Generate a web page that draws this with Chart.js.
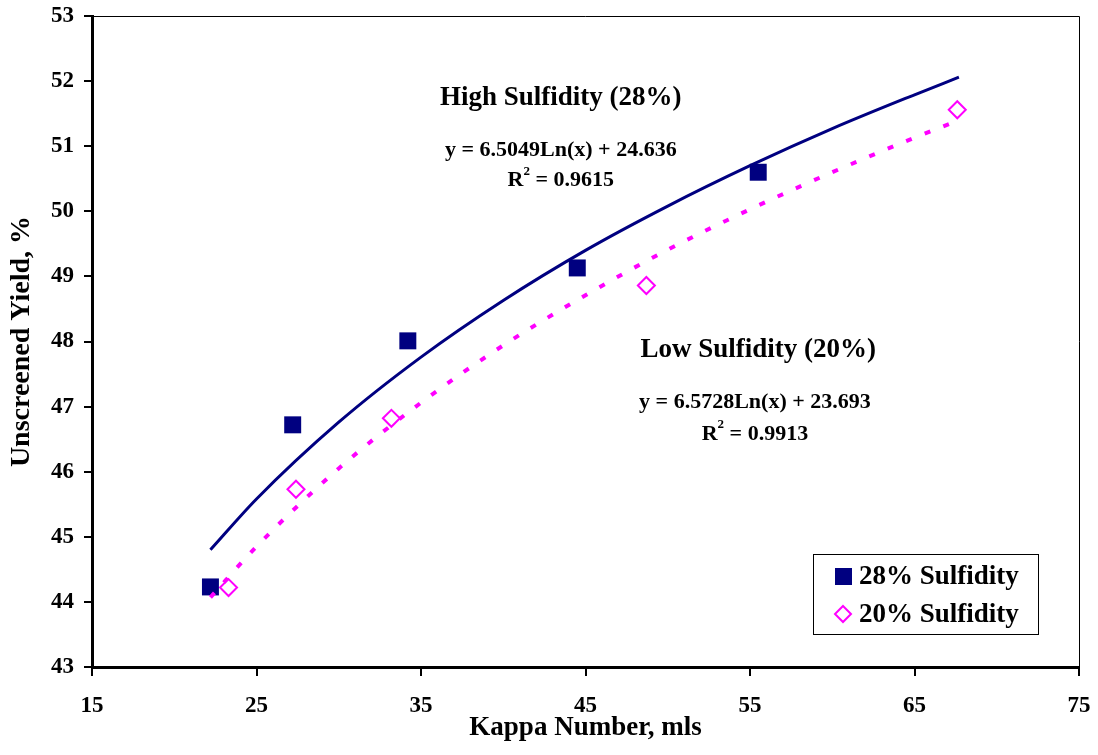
<!DOCTYPE html>
<html>
<head>
<meta charset="utf-8">
<script src="https://cdn.jsdelivr.net/npm/chart.js@4.4.1/dist/chart.umd.min.js"></script>
<style>
  html, body { margin: 0; padding: 0; background: #fff; }
  #wrap { width: 1098px; height: 755px; }
</style>
</head>
<body>
<div id="wrap"><canvas id="grafico" width="1098" height="755"></canvas></div>
<script>
// measured points
const kappa28 = [22.2, 27.2, 34.2, 44.5, 55.5];
const yield28 = [44.23, 46.72, 48.01, 49.13, 50.60];
const kappa20 = [23.3, 27.4, 33.2, 48.7, 67.6];
const yield20 = [44.22, 45.73, 46.82, 48.86, 51.56];

// trend lines
const trendX28 = [22.2, 25, 30, 35, 40, 45, 50, 55, 60, 65, 67.7];
const trendY28 = [44.80, 45.58, 46.76, 47.76, 48.63, 49.40, 50.08, 50.70, 51.27, 51.79, 52.06];
const trendX20 = [22.2, 25, 30, 35, 40, 45, 50, 55, 60, 65, 67.5];
const trendY20 = [44.07, 44.85, 46.05, 47.06, 47.94, 48.71, 49.41, 50.03, 50.60, 51.13, 51.38];

const xTicks = [15, 25, 35, 45, 55, 65, 75];
const yTicks = [43, 44, 45, 46, 47, 48, 49, 50, 51, 52, 53];

const seriesNames = ['28% Sulfidity', '20% Sulfidity'];
const notes = [
  { x: 43.5, y: 51.74, text: 'High Sulfidity (28%)', size: 27 },
  { x: 43.5, y: 50.94, text: 'y = 6.5049Ln(x) + 24.636', size: 22 },
  { x: 43.5, y: 50.47, text: 'R2 = 0.9615', size: 22, sup: true },
  { x: 55.5, y: 47.87, text: 'Low Sulfidity (20%)', size: 27 },
  { x: 55.3, y: 47.06, text: 'y = 6.5728Ln(x) + 23.693', size: 22 },
  { x: 55.3, y: 46.58, text: 'R2 = 0.9913', size: 22, sup: true }
];

const NAVY = '#000080';
const PINK = '#FF00FF';
const FONT = '"Liberation Serif", "Times New Roman", serif';

const pares = (xs, ys) => xs.map((x, i) => ({ x, y: ys[i] }));

// frame, notes and legend drawn on top
const extras = {
  id: 'extras',
  afterDraw(chart) {
    const { ctx, chartArea: a, scales } = chart;
    ctx.save();
    ctx.strokeStyle = '#000';
    ctx.lineWidth = 1;
    ctx.beginPath();
    ctx.moveTo(a.left, a.top + 0.5);
    ctx.lineTo(a.right + 0.5, a.top + 0.5);
    ctx.lineTo(a.right + 0.5, a.bottom);
    ctx.stroke();

    ctx.fillStyle = '#000';
    ctx.textAlign = 'center';
    ctx.textBaseline = 'middle';
    notes.forEach(n => {
      const px = scales.x.getPixelForValue(n.x);
      const py = scales.y.getPixelForValue(n.y);
      ctx.font = 'bold ' + n.size + 'px ' + FONT;
      if (n.sup) {
        const rest = n.text.slice(2);
        const wR = ctx.measureText('R').width;
        const wRest = ctx.measureText(rest).width;
        ctx.font = 'bold 13px ' + FONT;
        const w2 = ctx.measureText('2').width;
        const total = wR + w2 + wRest;
        const x0 = px - total / 2;
        ctx.textAlign = 'left';
        ctx.font = 'bold ' + n.size + 'px ' + FONT;
        ctx.fillText('R', x0, py);
        ctx.font = 'bold 13px ' + FONT;
        ctx.fillText('2', x0 + wR, py - 9);
        ctx.font = 'bold ' + n.size + 'px ' + FONT;
        ctx.fillText(rest, x0 + wR + w2, py);
        ctx.textAlign = 'center';
      } else {
        ctx.fillText(n.text, px, py);
      }
    });

    // legend box
    const lx = a.right - 266, ly = a.bottom - 113, lw = 225, lh = 80;
    ctx.lineWidth = 1;
    ctx.strokeStyle = '#000';
    ctx.strokeRect(lx + 0.5, ly + 0.5, lw, lh);
    ctx.textAlign = 'left';
    ctx.font = 'bold 27px ' + FONT;
    const ds = chart.data.datasets.filter(d => d.inLegend);
    ds.forEach((d, i) => {
      const cy = ly + 22 + i * 38;
      ctx.fillStyle = d.pointBackgroundColor;
      ctx.strokeStyle = d.pointBorderColor;
      ctx.lineWidth = 2;
      ctx.beginPath();
      if (d.pointStyle === 'rect') {
        ctx.fillRect(lx + 22, cy - 8, 17, 17);
      } else {
        ctx.moveTo(lx + 30, cy - 8);
        ctx.lineTo(lx + 38, cy);
        ctx.lineTo(lx + 30, cy + 8);
        ctx.lineTo(lx + 22, cy);
        ctx.closePath();
        ctx.stroke();
      }
      ctx.fillStyle = '#000';
      ctx.fillText(d.label, lx + 46, cy + 1);
    });
    ctx.restore();
  }
};

const ctx = document.getElementById('grafico').getContext('2d');
new Chart(ctx, {
  type: 'scatter',
  data: {
    datasets: [
      {
        label: 'trend 28', data: pares(trendX28, trendY28), showLine: true,
        borderColor: NAVY, borderWidth: 3, pointRadius: 0, cubicInterpolationMode: 'monotone'
      },
      {
        label: 'trend 20', data: pares(trendX20, trendY20), showLine: true,
        borderColor: PINK, borderWidth: 4, borderDash: [6, 14], pointRadius: 0,
        cubicInterpolationMode: 'monotone'
      },
      {
        label: seriesNames[0], data: pares(kappa28, yield28), inLegend: true,
        pointStyle: 'rect', pointRadius: 12, borderWidth: 0,
        pointBackgroundColor: NAVY, pointBorderColor: NAVY, backgroundColor: NAVY
      },
      {
        label: seriesNames[1], data: pares(kappa20, yield20), inLegend: true,
        pointStyle: 'rectRot', pointRadius: 8.5, borderWidth: 2,
        pointBackgroundColor: 'rgba(0,0,0,0)', pointBorderColor: PINK, borderColor: PINK
      }
    ]
  },
  options: {
    responsive: false,
    animation: false,
    layout: { padding: { top: 16, right: 19, left: 0, bottom: 0 } },
    plugins: { legend: { display: false }, tooltip: { enabled: false } },
    scales: {
      x: {
        type: 'linear', min: 15, max: 75,
        afterBuildTicks: s => { s.ticks = xTicks.map(v => ({ value: v })); },
        afterFit: s => { s.height = 88; s.paddingLeft = 0; s.paddingRight = 0; },
        grid: { drawOnChartArea: false, drawTicks: true, tickLength: 9, color: '#000', lineWidth: 2 },
        border: { color: '#000', width: 3 },
        ticks: { color: '#000', padding: 16, font: { family: FONT, size: 23, weight: 'bold' }, maxRotation: 0 },
        title: { display: true, text: 'Kappa Number, mls', color: '#000', padding: { top: 0, bottom: 11 },
          font: { family: FONT, size: 27, weight: 'bold' } }
      },
      y: {
        type: 'linear', min: 43, max: 53,
        afterBuildTicks: s => { s.ticks = yTicks.map(v => ({ value: v })); },
        afterFit: s => { s.width = 92; s.paddingTop = 0; s.paddingBottom = 0; },
        grid: { drawOnChartArea: false, drawTicks: true, tickLength: 8, color: '#000', lineWidth: 2 },
        border: { color: '#000', width: 3 },
        ticks: { color: '#000', padding: 10, font: { family: FONT, size: 23, weight: 'bold' } },
        title: { display: true, text: 'Unscreened Yield, %', color: '#000', padding: { top: 5, bottom: 0 },
          font: { family: FONT, size: 28, weight: 'bold' } }
      }
    }
  },
  plugins: [extras]
});
</script>
</body>
</html>
